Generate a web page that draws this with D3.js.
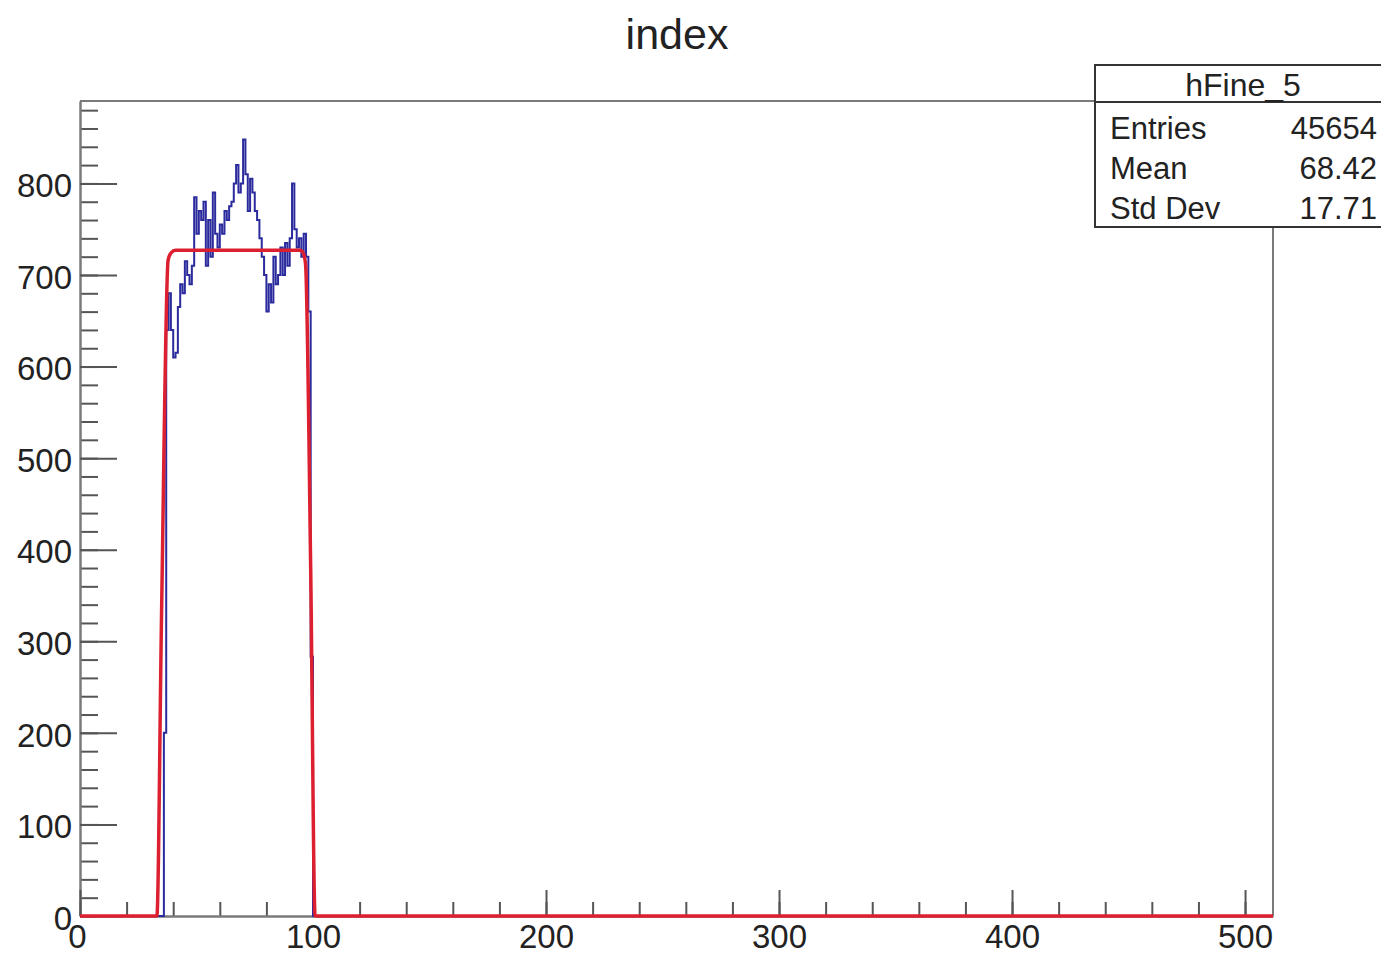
<!DOCTYPE html>
<html>
<head>
<meta charset="utf-8">
<script src="https://cdn.jsdelivr.net/npm/d3@7"></script>
<style>
  body { margin: 0; background: #fff; }
  text { font-family: "Liberation Sans", Arial, sans-serif; fill: #222; }
</style>
</head>
<body>
<div id="hist"></div>
<script>

// histogram hFine_5, 512 bins of width 1 from 0 to 512
const nBins = 512;
const binLow = 36;   // first filled bin
const binCounts = [
  200, 640, 680, 640, 610, 615, 665, 690, 680, 715,
  700, 690, 710, 785, 745, 770, 760, 780, 710, 760,
  720, 790, 745, 730, 755, 745, 770, 760, 775, 780,
  800, 820, 790, 800, 848, 810, 770, 805, 790, 770,
  760, 740, 720, 700, 660, 690, 670, 720, 690, 700,
  730, 700, 735, 710, 740, 800, 750, 730, 740, 720,
  745, 720, 660, 283
];

// fit function, sampled points
const fitX = [0, 33, 35, 37.8, 39, 41, 44, 60, 80, 94.5, 95.8, 96.8, 99, 100.9, 102, 512];
const fitY = [0, 0, 330, 716, 724, 727, 727, 727, 727, 727, 724, 712, 380, 0, 0, 0];

const xTicks = [0, 100, 200, 300, 400, 500];
const yTicks = [0, 100, 200, 300, 400, 500, 600, 700, 800];

const statsTitle = "hFine_5";
const statsNames = ["Entries", "Mean", "Std Dev"];
const statsValues = ["45654", "68.42", "17.71"];

const width = 1381, height = 953;
const margin = {left: 80, right: 108, top: 101, bottom: 37};

const svg = d3.select("#hist")
  .append("svg")
  .attr("width", width)
  .attr("height", height);

svg.append("rect").attr("width", width).attr("height", height).attr("fill", "#fff");

/*
  Scales
*/
let xScale = d3.scaleLinear()
  .domain([0, nBins])
  .range([margin.left, width - margin.right]);

let yScale = d3.scaleLinear()
  .domain([0, 890])
  .range([height - margin.bottom, margin.top]);

/*
  Frame (top and right sides)
*/
svg.append("path")
  .attr("d", `M${xScale(0)},${yScale(890)}H${xScale(nBins)}V${yScale(0)}`)
  .attr("fill", "none")
  .attr("stroke", "#7a7a7a")
  .attr("stroke-width", 2);

/*
  Axes
*/
// minor ticks first, every 20
svg.append("g")
  .attr("transform", `translate(${margin.left},0)`)
  .call(d3.axisLeft(yScale).tickValues(d3.range(0, 890, 20)).tickSizeInner(-18).tickSizeOuter(0).tickFormat(""))
  .call(g => g.select(".domain").remove())
  .selectAll("line").attr("stroke", "#555").attr("stroke-width", 2);

svg.append("g")
  .attr("transform", `translate(0,${yScale(0)})`)
  .call(d3.axisBottom(xScale).tickValues(d3.range(0, 513, 20)).tickSizeInner(-14).tickSizeOuter(0).tickFormat(""))
  .call(g => g.select(".domain").remove())
  .selectAll("line").attr("stroke", "#555").attr("stroke-width", 2);

// major ticks + labels
const yAxis = svg.append("g")
  .attr("transform", `translate(${margin.left},0)`)
  .call(d3.axisLeft(yScale).tickValues(yTicks).tickSizeInner(-37).tickSizeOuter(0).tickPadding(8));
yAxis.selectAll("text").attr("font-size", "33px").attr("dy", "0.4em");

const xAxis = svg.append("g")
  .attr("transform", `translate(0,${yScale(0)})`)
  .call(d3.axisBottom(xScale).tickValues(xTicks).tickSizeInner(-26).tickSizeOuter(0).tickPadding(9));
xAxis.selectAll("text").attr("font-size", "33px");
xAxis.selectAll(".tick").filter(d => d === 0).select("text").attr("dx", "-3");

svg.selectAll(".domain").attr("stroke", "#7a7a7a").attr("stroke-width", 2.5);
yAxis.selectAll(".tick line").attr("stroke", "#555").attr("stroke-width", 2);
xAxis.selectAll(".tick line").attr("stroke", "#555").attr("stroke-width", 2);
svg.selectAll(".tick text").attr("fill", "#222").style("font-family", "'Liberation Sans', Arial, sans-serif");

/*
  Histogram
*/
const hist = d3.range(nBins + 1).map(i => {
  let k = i - binLow;
  let c = (k >= 0 && k < binCounts.length) ? binCounts[k] : 0;
  return {x: i, y: c};
});

const stepLine = d3.line()
  .x(d => xScale(d.x))
  .y(d => yScale(d.y))
  .curve(d3.curveStepAfter);

svg.append("path")
  .datum(hist)
  .attr("d", stepLine)
  .attr("fill", "none")
  .attr("stroke", "#2b2b9e")
  .attr("stroke-width", 2);

/*
  Fit
*/
const fitLine = d3.line()
  .x((d, i) => xScale(fitX[i]))
  .y(d => yScale(d))
  .curve(d3.curveMonotoneX);

svg.append("path")
  .datum(fitY)
  .attr("d", fitLine)
  .attr("fill", "none")
  .attr("stroke", "#dc2030")
  .attr("stroke-width", 3.5)
  .attr("stroke-linejoin", "round");

/*
  Title
*/
svg.append("text")
  .attr("x", 677)
  .attr("y", 49)
  .attr("text-anchor", "middle")
  .attr("font-size", "43px")
  .text("index");

/*
  Stats box
*/
const stats = svg.append("g");
stats.append("rect")
  .attr("x", 1095).attr("y", 65)
  .attr("width", 300).attr("height", 162)
  .attr("fill", "#fff")
  .attr("stroke", "#333")
  .attr("stroke-width", 2);
stats.append("line")
  .attr("x1", 1095).attr("x2", 1381)
  .attr("y1", 102).attr("y2", 102)
  .attr("stroke", "#333").attr("stroke-width", 2);
stats.append("text")
  .attr("x", 1243).attr("y", 96)
  .attr("text-anchor", "middle")
  .attr("font-size", "32px")
  .text(statsTitle);

statsNames.forEach((name, i) => {
  stats.append("text")
    .attr("x", 1110).attr("y", 139 + i * 40)
    .attr("font-size", "31px")
    .text(name);
  stats.append("text")
    .attr("x", 1377).attr("y", 139 + i * 40)
    .attr("text-anchor", "end")
    .attr("font-size", "31px")
    .text(statsValues[i]);
});

</script>
</body>
</html>
